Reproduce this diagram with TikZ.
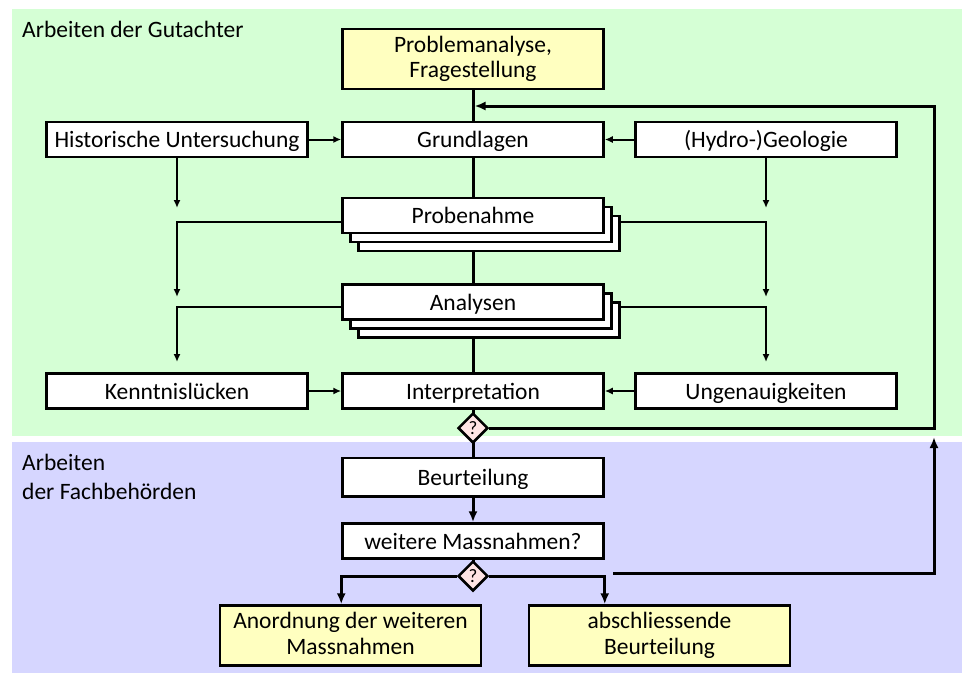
\documentclass[tikz,border=0pt]{standalone}
\usepackage{fontspec}
\setmainfont{Carlito}
\usetikzlibrary{calc, shapes.geometric, shadows, backgrounds, arrows.meta}

\definecolor{gutgreen}{RGB}{213,255,213}
\definecolor{fachblue}{RGB}{214,214,255}
\definecolor{startyellow}{RGB}{255,255,192}
\definecolor{askpink}{RGB}{255,228,228}

\begin{document}
\begin{tikzpicture}[x=1pt, y=1pt, >={Latex[length=11pt,width=9pt]},
    every node/.style={font=\fontsize{23.5}{25.5}\selectfont},
    frame/.style={draw, line width=2.5pt, fill=white, minimum width=261pt, inner sep=0pt, align=center},
    box/.style={frame, minimum height=35pt, text height=19.5pt, text depth=3.5pt},
    goal/.style={frame, fill=startyellow, minimum height=60pt, text height=41pt, text depth=4pt},
    stack/.style={box,
        copy shadow={shadow xshift=16pt, shadow yshift=-18pt, fill=white, draw=black, line width=2.5pt},
        copy shadow={shadow xshift=8pt, shadow yshift=-9pt, fill=white, draw=black, line width=2.5pt}},
    ask/.style={diamond, draw, line width=2.5pt, fill=askpink, minimum width=30pt, minimum height=30pt, inner sep=0pt, font=\fontsize{19}{19}\selectfont},
    main/.style={line width=3pt},
    side/.style={line width=2pt, >={Latex[length=8pt,width=7pt]}},
    area/.style={inner sep=0pt, align=left, font=\fontsize{23.5}{29}\selectfont}]
            \useasboundingbox (0,0) rectangle (962,-673);

            % main column
            \node[goal] (prob) at (473,-59) {Problemanalyse,\\Fragestellung};
            \node[box, below of=prob, node distance=80.5pt] (grund) {Grundlagen};
            \node[box, left of=grund, node distance=296pt] (hist) {Historische Untersuchung};
            \node[box, right of=grund, node distance=293pt] (hydro) {(Hydro-)Geologie};
            \node[stack, below of=grund, node distance=76pt] (probe) {Probenahme};
            \node[stack, below of=probe, node distance=86.5pt] (anal) {Analysen};
            \node[box, below of=anal, node distance=89pt] (interp) {Interpretation};
            \node[box, left of=interp, node distance=296pt] (kennt) {Kenntnislücken};
            \node[box, right of=interp, node distance=293pt] (unge) {Ungenauigkeiten};
            \node[ask, below of=interp, node distance=37pt] (q1) {?};

            % Fachbehoerden
            \node[box, below of=q1, node distance=49pt, minimum height=38.5pt] (beurt) {Beurteilung};
            \node[box, below of=beurt, node distance=64pt] (weit) {weitere Massnahmen?};
            \node[ask, below of=weit, node distance=35pt] (q2) {?};
            \node[goal, below of=q2, node distance=59.5pt, xshift=-122.5pt] (anord) {Anordnung der weiteren\\Massnahmen};
            \node[goal, below of=q2, node distance=59.5pt, xshift=186.5pt] (absch) {abschliessende\\Beurteilung};

            \node[area, anchor=base west] (gutlabel) at (22,-37) {Arbeiten der Gutachter};
            \node[area, anchor=north west] (fachlabel) at (22,-454) {Arbeiten\\der Fachbehörden};

            \coordinate (hist-a) at (hist |- 0,-208);
            \coordinate (hist-b) at (hist |- 0,-297);
            \coordinate (hist-c) at (hist |- 0,-362);
            \coordinate (hydro-a) at (hydro |- 0,-208);
            \coordinate (hydro-b) at (hydro |- 0,-297);
            \coordinate (hydro-c) at (hydro |- 0,-362);
            \coordinate (loop-t) at (934,-106);
            \coordinate (back-s) at (613,-573);
            \coordinate (back-e) at (934,-437);

            \begin{scope}[on background layer]
                \fill[gutgreen] (12,-9) rectangle (962,-436);
                \fill[fachblue] (12,-442) rectangle (962,-673);

                \draw[main] (prob.center) -- (beurt.center);
                \draw[main,->] (beurt) -- (weit);
                \draw[main] (weit.center) -- (q2.center);

                \draw[side,->] (hist) -- (grund);
                \draw[side,->] (hydro) -- (grund);
                \draw[side,->] (kennt) -- (interp);
                \draw[side,->] (unge) -- (interp);

                \draw[side,->] (hist) -- (hist-a);
                \draw[side,->] (probe.center |- 0,-222) -| (hist-b);
                \draw[side,->] (anal.center |- 0,-307) -| (hist-c);
                \draw[side,->] (hydro) -- (hydro-a);
                \draw[side,->] (probe.center |- 0,-222) -| (hydro-b);
                \draw[side,->] (anal.center |- 0,-307) -| (hydro-c);

                \draw[main,->, shorten >=1.5pt] (q1.east) -| (loop-t) -- (loop-t -| grund);
                \draw[main,->] (q2.west) -| (anord.north -| weit.west);
                \draw[main,->] (q2.east) -| (absch.north -| weit.east);
                \draw[main,->] (back-s) -| (back-e);
            \end{scope}
        \end{tikzpicture}
\end{document}
